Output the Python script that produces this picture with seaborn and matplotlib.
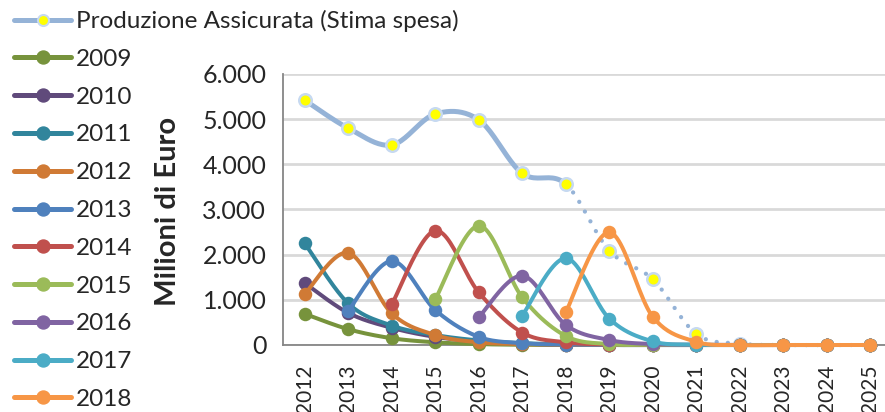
import numpy as np
import pandas as pd
import seaborn as sns
import matplotlib
matplotlib.use("Agg")
import matplotlib.pyplot as plt
from matplotlib.lines import Line2D
from matplotlib.ticker import FuncFormatter

# ---------------- data ----------------
years = [2012, 2013, 2014, 2015, 2016, 2017, 2018, 2019, 2020, 2021, 2022, 2023, 2024, 2025]
tick_labels = [str(y) for y in years]
production_label = "Produzione Assicurata (Stima spesa)"
production = [5420, 4800, 4430, 5115, 4985, 3800, 3565, 2090, 1455, 245, 30, 0, 0, 0]

s2009 = [690, 350, 150, 60, 20, 5, 0, 0, 0, 0, 0, 0, 0, 0]
s2010 = [1370, 710, 380, 180, 80, 30, 10, 0, 0, 0, 0, 0, 0, 0]
s2011 = [2250, 920, 430, 220, 100, 40, 15, 0, 0, 0, 0, 0, 0, 0]
s2012 = [1130, 2040, 700, 220, 60, 20, 5, 0, 0, 0, 0, 0, 0, 0]
s2013 = [None, 760, 1860, 775, 180, 40, 10, 0, 0, 0, 0, 0, 0, 0]
s2014 = [None, None, 900, 2530, 1165, 275, 60, 10, 0, 0, 0, 0, 0, 0]
s2015 = [None, None, None, 1010, 2640, 1055, 200, 20, 5, 0, 0, 0, 0, 0]
s2016 = [None, None, None, None, 615, 1535, 445, 110, 20, 5, 0, 0, 0, 0]
s2017 = [None, None, None, None, None, 650, 1920, 585, 80, 10, 0, 0, 0, 0]
s2018 = [None, None, None, None, None, None, 725, 2495, 625, 70, 0, 0, 0, 0]

series_names = ["2009", "2010", "2011", "2012", "2013", "2014", "2015", "2016", "2017", "2018"]
series_values = [s2009, s2010, s2011, s2012, s2013, s2014, s2015, s2016, s2017, s2018]
series_colors = ["#77933C", "#604A7B", "#31859C", "#D07A35", "#4F81BD",
                 "#C0504D", "#9BBB59", "#8064A2", "#4BACC6", "#F79646"]
prod_color = "#95B3D7"
solid_until = 2018

# ---------------- helpers ----------------
def smooth(x, y, n=24):
    pts = np.column_stack([x, y]).astype(float)
    N = len(pts)
    if N < 2:
        return pts[:, 0], pts[:, 1]
    t = np.linspace(0, 1, n)[:, None]
    out = []
    for i in range(N - 1):
        p0 = pts[max(i - 1, 0)]
        p1 = pts[i]
        p2 = pts[i + 1]
        p3 = pts[min(i + 2, N - 1)]
        c1 = p1 + (p2 - p0) / 6.0
        c2 = p2 - (p3 - p1) / 6.0
        seg = ((1 - t) ** 3) * p1 + 3 * ((1 - t) ** 2) * t * c1 + 3 * (1 - t) * t ** 2 * c2 + t ** 3 * p2
        if i > 0:
            seg = seg[1:]
        out.append(seg)
    out = np.vstack(out)
    return out[:, 0], out[:, 1]

# ---------------- style ----------------
sns.set_theme(style="white")
plt.rcParams["font.family"] = ["Lato", "DejaVu Sans"]
FS = 17.5
FS_YTICK = 18
FS_XTICK = 15
FS_YLAB = 21

fig = plt.figure(figsize=(8.85, 4.12), dpi=100)
ax = fig.add_axes([283 / 885, (412 - 345) / 412, 609 / 885, 271 / 412])

idx = np.arange(len(years))
PX = 100 / 72.0  # px per pt

# production line
px_, py_ = smooth(idx, production)
cut = years.index(solid_until)
solid_mask = px_ <= cut + 1e-9
dot_mask = px_ >= cut - 1e-9
sns.lineplot(x=px_[solid_mask], y=py_[solid_mask], ax=ax, color=prod_color, lw=5 / PX,
             sort=False, estimator=None, clip_on=False, zorder=2, solid_capstyle="round")
ax.plot(px_[dot_mask], py_[dot_mask], color=prod_color, lw=4.3 / PX,
        linestyle=(0, (0.01, 2.6)), dash_capstyle="round", clip_on=False, zorder=2)
prod_idx = [i for i, v in enumerate(production) if i <= years.index(2022)]
sns.scatterplot(x=idx[prod_idx], y=np.array(production)[prod_idx], ax=ax, color="#FFFF00",
                edgecolor="#C6D9F1", linewidth=1.8, s=(12.5 / PX) ** 2, zorder=3, clip_on=False)

z = 4
for name, vals, col in zip(series_names, series_values, series_colors):
    xs = np.array([i for i, v in enumerate(vals) if v is not None])
    ys = np.array([v for v in vals if v is not None], dtype=float)
    sx, sy = smooth(xs, ys)
    sns.lineplot(x=sx, y=sy, ax=ax, color=col, lw=4 / PX, sort=False, estimator=None,
                 clip_on=False, zorder=z, solid_capstyle="round")
    sns.scatterplot(x=xs, y=ys, ax=ax, color=col, edgecolor=col, linewidth=0,
                    s=(13.5 / PX) ** 2, zorder=z + 0.5, clip_on=False)
    z += 1

# axes
ax.set_xlim(-0.5, len(years) - 0.5)
ax.set_ylim(0, 6000)
ax.set_yticks(np.arange(0, 6001, 1000))
ax.yaxis.set_major_formatter(FuncFormatter(lambda v, p: f"{int(v):,}".replace(",", ".")))
ax.set_xticks(idx)
ax.set_xticklabels(tick_labels, rotation=90, fontsize=FS_XTICK)
ax.set_xticks(np.arange(-0.5, len(years), 1.0), minor=True)
ax.tick_params(axis="x", which="major", length=0, pad=14)
ax.tick_params(axis="x", which="minor", length=6, width=1.3, color="#868686", direction="out")
ax.tick_params(axis="y", which="major", length=6, width=1.3, color="#868686", direction="out",
               labelsize=FS_YTICK, pad=6)
for lab in ax.get_xticklabels():
    lab.set_verticalalignment("top")
ax.grid(axis="y", color="#D9D9D9", lw=2)
ax.grid(axis="x", visible=False)
ax.set_axisbelow(True)
for s in ["top", "right"]:
    ax.spines[s].set_visible(False)
for s in ["left", "bottom"]:
    ax.spines[s].set_color("#868686")
    ax.spines[s].set_linewidth(1.3)
    ax.spines[s].set_zorder(1)
ax.set_xlabel("")
ax.set_ylabel("")
fig.text(168 / 885, 1 - 211 / 412, "Milioni di Euro", rotation=90, ha="center", va="center",
         fontsize=FS_YLAB, fontweight="bold")

# legend
handles = [Line2D([], [], color=prod_color, lw=5 / PX, marker="o", markersize=11 / PX,
                  markerfacecolor="#FFFF00", markeredgecolor="#C6D9F1", markeredgewidth=1.5)]
labels = [production_label]
for name, col in zip(series_names, series_colors):
    handles.append(Line2D([], [], color=col, lw=5 / PX, marker="o", markersize=13 / PX,
                          markerfacecolor=col, markeredgecolor=col))
    labels.append(name)
fig.legend(handles, labels, loc="upper left", bbox_to_anchor=(14 / 885, 1 - 10 / 412),
           frameon=False, fontsize=FS, handlelength=2.35, handletextpad=0.2,
           labelspacing=0.69, borderpad=0, borderaxespad=0)

fig.savefig("out.png", dpi=100)
